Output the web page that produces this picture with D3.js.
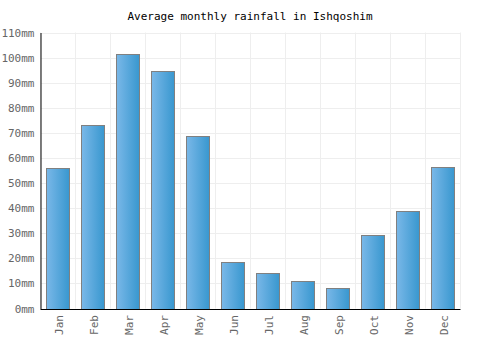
<!DOCTYPE html>
<html>
<head>
<script src="https://d3js.org/d3.v7.min.js"></script>
<style>
body { margin: 0; background: #fff; }
text { font-family: "DejaVu Sans Mono", monospace; }
</style>
</head>
<body>
<svg class="target" width="500" height="350"></svg>
<script>

months = ['Jan', 'Feb', 'Mar', 'Apr', 'May', 'Jun', 'Jul', 'Aug', 'Sep', 'Oct', 'Nov', 'Dec']
rainfall = [55.9, 73, 101.4, 94.7, 68.7, 18.4, 14, 10.8, 8, 29.2, 38.7, 56.4]
yTicks = [0, 10, 20, 30, 40, 50, 60, 70, 80, 90, 100, 110]

margin = ({ top: 32.5, right: 40, bottom: 41.5, left: 40 })
width = 500
height = 350

const svg = d3.select('.target')

// left to right gradient on each bar
const grad = svg.append('defs').append('linearGradient')
    .attr('id', 'barGrad')
    .attr('x1', '0%').attr('x2', '100%')
grad.append('stop').attr('offset', '0%').attr('stop-color', '#7ab8e8')
grad.append('stop').attr('offset', '100%').attr('stop-color', '#3897cf')

xScale = d3.scaleBand(months, [margin.left, width - margin.right])
    .paddingInner(0.33).paddingOuter(0.165)
xGrid = d3.scaleBand(months, [margin.left, width - margin.right])

yScale = d3.scaleLinear([0, 110], [height - margin.bottom, margin.top])

// grid
svg.append('g')
  .selectAll('line')
  .data(yTicks)
  .join('line')
    .attr('x1', margin.left).attr('x2', width - margin.right)
    .attr('y1', d => Math.round(yScale(d)) + 0.5)
    .attr('y2', d => Math.round(yScale(d)) + 0.5)
    .attr('stroke', '#eeeeee')

svg.append('g')
  .selectAll('line')
  .data(months.concat(['end']))
  .join('line')
    .attr('x1', (d, i) => Math.round(margin.left + i * xGrid.step()) + 0.5)
    .attr('x2', (d, i) => Math.round(margin.left + i * xGrid.step()) + 0.5)
    .attr('y1', margin.top)
    .attr('y2', height - margin.bottom)
    .attr('stroke', '#eeeeee')

// bars
svg.append('g')
  .selectAll('rect')
  .data(rainfall)
  .join('rect')
    .attr('x', (d, i) => Math.round(xScale(months[i])) + 0.5)
    .attr('y', d => Math.round(yScale(d)) + 0.5)
    .attr('width', Math.round(xScale.bandwidth()))
    .attr('height', d => Math.round(yScale(0)) - Math.round(yScale(d)))
    .attr('fill', 'url(#barGrad)')
    .attr('stroke', '#808080')
    .attr('stroke-width', 1)

// axes
yAxis = d3.axisLeft(yScale).tickValues(yTicks).tickSize(0).tickPadding(6)
    .tickFormat(d => d + 'mm')
svg.append('g')
    .attr('transform', `translate(${margin.left + 0.5},0)`)
    .call(yAxis)
    .call(g => g.select('.domain').attr('stroke', '#000'))
    .call(g => g.selectAll('text').attr('fill', '#666').style('font-size', '11px'))

xAxis = d3.axisBottom(xScale).tickSize(0).tickSizeOuter(0)
svg.append('g')
    .attr('transform', `translate(0,${yScale(0) + 0.5})`)
    .call(xAxis)
    .call(g => g.select('.domain').attr('stroke', '#000'))
    .call(g => g.selectAll('text')
        .attr('fill', '#666')
        .style('font-size', '11px')
        .attr('transform', 'rotate(-90)')
        .attr('text-anchor', 'end')
        .attr('x', -6)
        .attr('y', 0)
        .attr('dy', '0.5em'))

svg.append('text')
    .attr('x', width / 2)
    .attr('y', 20)
    .attr('text-anchor', 'middle')
    .style('font-size', '11px')
    .attr('fill', '#000')
    .text('Average monthly rainfall in Ishqoshim')

</script>
</body>
</html>
